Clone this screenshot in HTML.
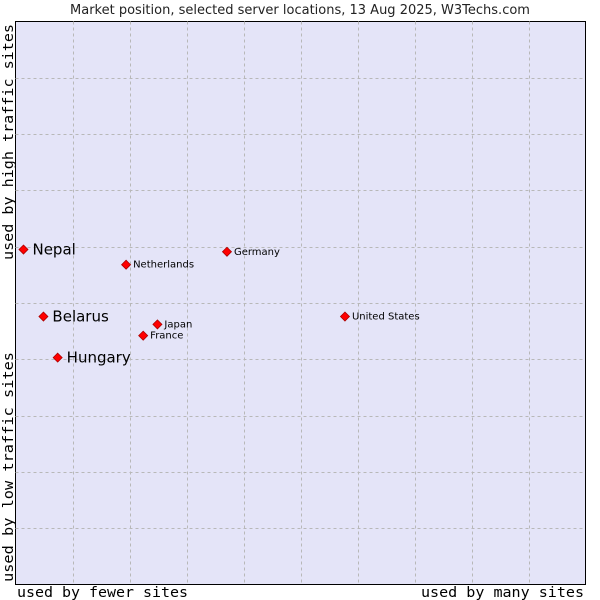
<!DOCTYPE html>
<html><head><meta charset="utf-8"><style>
body{margin:0;background:#fff;font-family:"DejaVu Sans","Liberation Sans",sans-serif}
svg{display:block}
</style></head><body>
<svg id="chart" width="600" height="600">
<text x="300" y="14" text-anchor="middle" font-size="13" fill="#222">Market position, selected server locations, 13 Aug 2025, W3Techs.com</text>
<rect x="15.5" y="21.5" width="570" height="563" fill="#e4e4f8" stroke="#000"/>
<g id="grid"></g>
<g id="pts"></g>
<text x="17" y="597" textLength="171" lengthAdjust="spacingAndGlyphs" font-family="DejaVu Sans Mono,Liberation Mono,monospace" font-size="14">used by fewer sites</text>
<text x="421" y="597" textLength="163" lengthAdjust="spacingAndGlyphs" font-family="DejaVu Sans Mono,Liberation Mono,monospace" font-size="14">used by many sites</text>
<text transform="translate(13,582) rotate(-90)" textLength="230" lengthAdjust="spacingAndGlyphs" font-family="DejaVu Sans Mono,Liberation Mono,monospace" font-size="14">used by low traffic sites</text>
<text transform="translate(13,260) rotate(-90)" textLength="236" lengthAdjust="spacingAndGlyphs" font-family="DejaVu Sans Mono,Liberation Mono,monospace" font-size="14">used by high traffic sites</text>
</svg>
<script>
const names=["Nepal","Belarus","Hungary","Netherlands","Germany","United States","Japan","France"];
const xs=[1.4,4.9,7.4,19.4,37.1,57.8,24.9,22.4];
const ys=[59.5,47.6,40.3,56.8,59.1,47.6,46.2,44.2];
const highlight=[true,true,true,false,false,false,false,false];
const L=15.5,T=21.5,W=570,H=563;
const sx=v=>L+v/100*W, sy=v=>T+H-v/100*H;
const NS="http://www.w3.org/2000/svg";
const g=document.getElementById('grid'),p=document.getElementById('pts');
for(let i=1;i<10;i++){
 let a=document.createElementNS(NS,'line');
 
 
 a.setAttribute('x1',Math.round(sx(i*10))+0.5);a.setAttribute('x2',Math.round(sx(i*10))+0.5);
 a.setAttribute('y1',T);a.setAttribute('y2',T+H);
 a.setAttribute('stroke','#b8b8b8');a.setAttribute('stroke-dasharray','3,3');g.appendChild(a);
 let b=document.createElementNS(NS,'line');
 
 
 b.setAttribute('y1',Math.round(sy(i*10))+0.5);b.setAttribute('y2',Math.round(sy(i*10))+0.5);
 b.setAttribute('x1',L);b.setAttribute('x2',L+W);
 b.setAttribute('stroke','#b8b8b8');b.setAttribute('stroke-dasharray','3,3');g.appendChild(b);
}
names.forEach((n,i)=>{
 const x=sx(xs[i]),y=sy(ys[i]);
 const m=document.createElementNS(NS,'polygon');
 
 
 m.setAttribute('points',`${x},${y-4.5} ${x+4.5},${y} ${x},${y+4.5} ${x-4.5},${y}`);
 m.setAttribute('fill','#ff0000');m.setAttribute('stroke','#a00');m.setAttribute('stroke-width','0.8');
 p.appendChild(m);
 const t=document.createElementNS(NS,'text');
 
 
 t.setAttribute('x',x+(highlight[i]?9:7));t.setAttribute('y',y+(highlight[i]?5:3));
 t.setAttribute('font-size',highlight[i]?'15':'10');t.setAttribute('fill','#000');
 t.textContent=n;p.appendChild(t);
});
</script>
</body></html>
